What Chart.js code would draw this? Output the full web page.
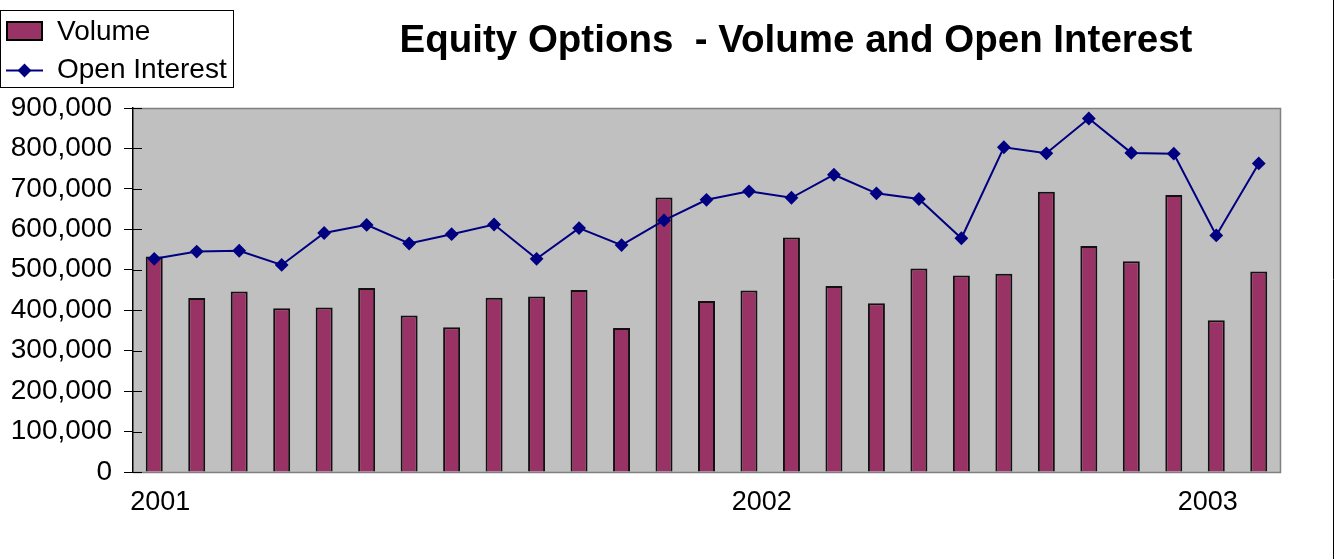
<!DOCTYPE html>
<html>
<head>
<meta charset="utf-8">
<script src="https://cdn.jsdelivr.net/npm/chart.js@4/dist/chart.umd.min.js"></script>
<style>
  html, body { margin: 0; padding: 0; background: #fff; }
  #wrap { width: 1335px; height: 559px; position: relative; }
</style>
</head>
<body>
<div id="wrap"><canvas id="c"></canvas></div>
<script>
// ---- data ----
const months = [
  'Jan 2001','Feb 2001','Mar 2001','Apr 2001','May 2001','Jun 2001','Jul 2001','Aug 2001','Sep 2001','Oct 2001','Nov 2001','Dec 2001',
  'Jan 2002','Feb 2002','Mar 2002','Apr 2002','May 2002','Jun 2002','Jul 2002','Aug 2002','Sep 2002','Oct 2002','Nov 2002','Dec 2002',
  'Jan 2003','Feb 2003','Mar 2003'
];
const volume = [533000, 430000, 446000, 405000, 407000, 455000, 387000, 358000, 431000, 434000, 450000, 356000,
                679000, 423000, 449000, 580000, 460000, 417000, 503000, 486000, 490000, 693000, 559000, 521000,
                685000, 375000, 496000];
const openInterest = [527000, 545000, 547000, 512000, 591000, 611000, 565000, 588000, 612000, 527000, 603000, 561000,
                      622000, 673000, 694000, 678000, 735000, 689000, 675000, 578000, 803000, 788000, 874000, 789000,
                      787000, 585000, 763000];
const yearLabels = ['2001', '2002', '2003'];
const yearTickValues = [0.64, 14.8, 25.3];
const yTickMin = 0, yTickMax = 900000, yTickStep = 100000;
const titleText = 'Equity Options  - Volume and Open Interest';

const FONT = "'Liberation Sans', Arial, Helvetica, sans-serif";

const decorPlugin = {
  id: 'decor',
  beforeDraw(chart) {
    const {ctx, chartArea: a} = chart;
    ctx.save();
    ctx.fillStyle = '#C0C0C0';
    ctx.fillRect(a.left, a.top, a.right - a.left, a.bottom - a.top);
    ctx.restore();
  },
  beforeDatasetsDraw(chart) {
    const {ctx, chartArea: a} = chart;
    ctx.save();
    ctx.strokeStyle = '#808080';
    ctx.lineWidth = 1.5;
    ctx.beginPath();
    ctx.moveTo(a.left, a.top + 0.5);
    ctx.lineTo(a.right + 0.5, a.top + 0.5);
    ctx.lineTo(a.right + 0.5, a.bottom + 0.5);
    ctx.lineTo(a.left, a.bottom + 0.5);
    ctx.stroke();
    // inner half of the crossing tick marks on the value axis
    const y = chart.scales.y;
    ctx.strokeStyle = '#000';
    ctx.lineWidth = 1;
    y.ticks.forEach(t => {
      const py = Math.round(y.getPixelForValue(t.value)) + 0.5;
      ctx.beginPath();
      ctx.moveTo(a.left, py);
      ctx.lineTo(a.left + 9, py);
      ctx.stroke();
    });
    ctx.restore();
  },
  afterDraw(chart) {
    const {ctx} = chart;
    ctx.save();
    // title
    ctx.fillStyle = '#000';
    ctx.font = "bold 38.5px " + FONT;
    ctx.textAlign = 'center';
    ctx.textBaseline = 'middle';
    ctx.fillText(titleText, 796, 41);
    // legend box
    ctx.strokeStyle = '#000';
    ctx.lineWidth = 1;
    ctx.fillStyle = '#fff';
    ctx.fillRect(0, 10, 234, 78);
    ctx.strokeRect(0.5, 10.5, 233, 77);
    const ds = chart.data.datasets;
    // bar entry
    ctx.fillStyle = ds[0].backgroundColor;
    ctx.fillRect(7, 22, 35, 18);
    ctx.strokeStyle = '#000';
    ctx.lineWidth = 2;
    ctx.strokeRect(7, 22, 35, 18);
    ctx.fillStyle = '#000';
    ctx.font = "28px " + FONT;
    ctx.textAlign = 'left';
    ctx.textBaseline = 'middle';
    ctx.fillText(ds[0].label, 57, 32);
    // line entry
    ctx.strokeStyle = ds[1].borderColor;
    ctx.lineWidth = 2;
    ctx.beginPath();
    ctx.moveTo(6, 70.5);
    ctx.lineTo(43, 70.5);
    ctx.stroke();
    Chart.helpers.drawPoint(ctx, {pointStyle: 'rectRot', radius: 5.5, rotation: 0, borderWidth: 1}, 24.5, 70.5);
    ctx.fillStyle = ds[1].pointBackgroundColor;
    ctx.fill();
    ctx.fillStyle = '#000';
    ctx.fillText(ds[1].label, 57, 70);
    // outer frame right edge
    ctx.strokeStyle = '#000';
    ctx.lineWidth = 1;
    ctx.beginPath();
    ctx.moveTo(1333.5, 0);
    ctx.lineTo(1333.5, 559);
    ctx.stroke();
    ctx.restore();
  }
};

new Chart(document.getElementById('c'), {
  data: {
    labels: months,
    datasets: [
      {
        type: 'bar',
        label: 'Volume',
        data: volume,
        backgroundColor: '#993366',
        borderColor: '#111111',
        borderWidth: 2,
        barPercentage: 0.4,
        categoryPercentage: 1.0,
        order: 2
      },
      {
        type: 'line',
        label: 'Open Interest',
        data: openInterest,
        borderColor: '#000080',
        backgroundColor: '#000080',
        pointBackgroundColor: '#000080',
        pointBorderColor: '#000080',
        borderWidth: 2,
        pointStyle: 'rectRot',
        pointRadius: 5.5,
        tension: 0,
        fill: false,
        order: 1
      }
    ]
  },
  options: {
    responsive: true,
    maintainAspectRatio: false,
    animation: false,
    layout: { padding: { top: 108, right: 55, left: 0, bottom: 0 } },
    plugins: {
      legend: { display: false },
      title: { display: false },
      tooltip: { enabled: false }
    },
    scales: {
      x: {
        type: 'category',
        display: false,
        offset: true,
        grid: { display: false }
      },
      years: {
        type: 'linear',
        position: 'bottom',
        min: 0,
        max: months.length,
        afterBuildTicks: (s) => { s.ticks = yearTickValues.map(v => ({ value: v })); },
        afterFit: (s) => { s.height = 87; },
        grid: { display: false, drawTicks: false },
        border: { display: false },
        ticks: {
          autoSkip: false,
          maxRotation: 0,
          padding: 14,
          color: '#000',
          font: { family: FONT, size: 27 },
          callback: (v, i) => yearLabels[i]
        }
      },
      y: {
        type: 'linear',
        position: 'left',
        min: yTickMin,
        max: yTickMax,
        afterFit: (s) => { s.width = 133; },
        grid: { display: true, drawOnChartArea: false, drawTicks: true, tickLength: 9, color: '#000', lineWidth: 1 },
        border: { display: true, color: '#000', width: 1.5 },
        ticks: {
          stepSize: yTickStep,
          padding: 12,
          color: '#000',
          font: { family: FONT, size: 28 },
          callback: (v) => Number(v).toLocaleString('en-US')
        }
      }
    }
  },
  plugins: [decorPlugin]
});
</script>
</body>
</html>
